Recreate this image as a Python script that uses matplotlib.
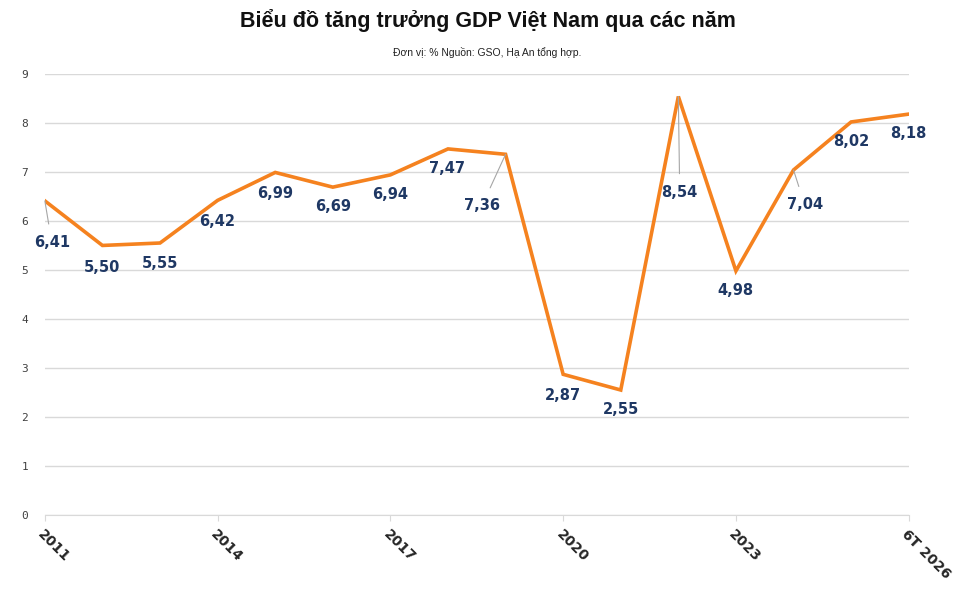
import matplotlib.pyplot as plt
import numpy as np

years = ['2011', '2012', '2013', '2014', '2015', '2016', '2017', '2018',
         '2019', '2020', '2021', '2022', '2023', '2024', '2025', '6T 2026']
gdp = [6.41, 5.50, 5.55, 6.42, 6.99, 6.69, 6.94, 7.47,
       7.36, 2.87, 2.55, 8.54, 4.98, 7.04, 8.02, 8.18]

# label offsets in points (dx, dy), leader line for far ones
offsets = [(5, -30), (0, -16), (0, -15), (0, -15), (0, -15), (0, -14), (0, -14), (-1, -14),
           (-17, -37), (0, -15), (0, -14), (1, -69), (0, -14), (8, -25), (0, -14), (0, -14)]
leaders = {0, 8, 11, 13}

orange = '#f5821f'
navy = '#1f3864'

fig = plt.figure(figsize=(9.75, 6.07), dpi=100)
ax = fig.add_axes([0.046, 0.1516, 0.886, 0.7266])

x = np.arange(len(years))
ax.plot(x, gdp, color=orange, lw=2.6, solid_joinstyle='miter', zorder=3)

for i, (v, (dx, dy)) in enumerate(zip(gdp, offsets)):
    label = f'{v:.2f}'.replace('.', ',')
    if i in leaders:
        ax.annotate(label, (i, v), xytext=(dx, dy), textcoords='offset points',
                    ha='center', va='center', fontsize=10.5, fontweight='bold', color=navy,
                    arrowprops=dict(arrowstyle='-', color='#a6a6a6', lw=0.8,
                                    shrinkA=6, shrinkB=0))
    else:
        ax.annotate(label, (i, v), xytext=(dx, dy), textcoords='offset points',
                    ha='center', va='center', fontsize=10.5, fontweight='bold', color=navy)

ax.set_xlim(0, 15)
ax.set_ylim(0, 9)
ax.set_yticks(range(10))
ax.set_yticklabels([str(k) for k in range(10)], family='DejaVu Sans Mono',
                   fontsize=8, color='#404040')
ax.yaxis.grid(True, color='#d9d9d9', lw=1)
ax.set_axisbelow(True)
ax.tick_params(axis='y', length=0, pad=12)

tick_idx = [0, 3, 6, 9, 12, 15]
ax.set_xticks(tick_idx)
ax.set_xticklabels([years[k] for k in tick_idx], rotation=-45, ha='left',
                   va='top', rotation_mode='anchor', fontsize=10,
                   fontweight='bold', color='#262626')
ax.tick_params(axis='x', length=4, color='#d9d9d9', pad=5)

for s in ['top', 'right', 'left']:
    ax.spines[s].set_visible(False)
ax.spines['bottom'].set_color('#d9d9d9')

fig.text(0.5, 0.966, 'Biểu đồ tăng trưởng GDP Việt Nam qua các năm',
         ha='center', va='center', fontsize=15.5, fontweight='bold', color='#111111',
         family=['Liberation Sans', 'DejaVu Sans'])
fig.text(0.5, 0.913, 'Đơn vị: % Nguồn: GSO, Hạ An tổng hợp.',
         ha='center', va='center', fontsize=7.5, color='#222222',
         family=['Liberation Sans', 'DejaVu Sans'])

fig.savefig('out.png', dpi=100)
